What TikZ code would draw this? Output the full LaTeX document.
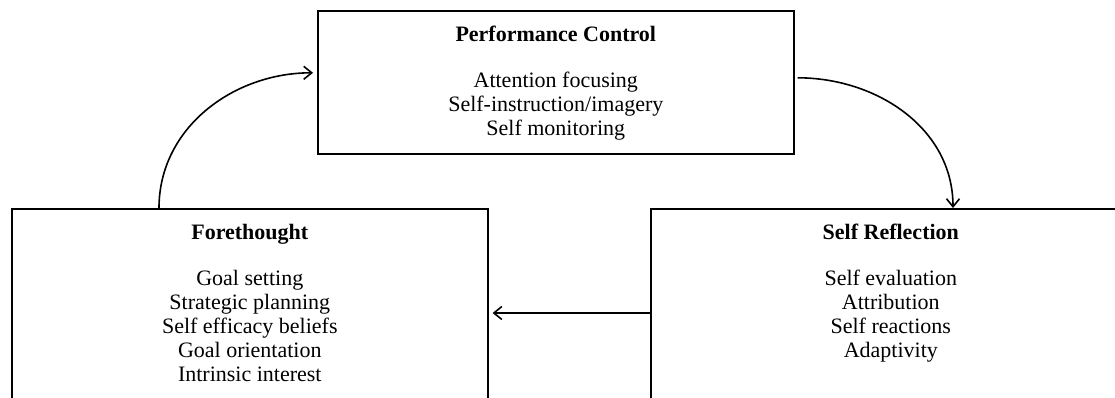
\documentclass[tikz,border=0pt]{standalone}
\usepackage{fontspec}
\setmainfont{Liberation Serif}
\usetikzlibrary{positioning,arrows.meta}

\begin{document}
\begin{tikzpicture}[x=0.5pt, y=-0.5pt, >={Straight Barb[length=4pt, width=6.5pt]},
    phase/.style={draw, line width=0.8pt, anchor=north west, minimum height=110pt},
    txt/.style={align=center, inner sep=0pt, font=\fontsize{11}{12}\selectfont}]
         \useasboundingbox (0,0) rectangle (1115,397);
         \clip (0,0) rectangle (1115,397);
         \node [phase, minimum width=238pt, minimum height=71.5pt] (PC) at (317, 10) {};
         \node [phase, minimum width=238pt] (FT) at (11, 208) {};
         \node [phase, minimum width=240pt] (SR) at (650, 208) {};
         \node [txt, below=8pt of PC.north] (PCtext) {\textbf{Performance Control}\\[11pt]
             Attention focusing\\ Self-instruction/imagery\\ Self monitoring};
         \node [txt, below=8pt of FT.north] (FTtext) {\textbf{Forethought}\\[11pt]
             Goal setting\\ Strategic planning\\ Self efficacy beliefs\\ Goal orientation\\ Intrinsic interest};
         \node [txt, below=8pt of SR.north] (SRtext) {\textbf{Self Reflection}\\[11pt]
             Self evaluation\\ Attribution\\ Self reactions\\ Adaptivity};
         \draw [->, line width=0.8pt] ([xshift=74pt]FT.north west) to [out=90, in=180] ([yshift=4.75pt, xshift=-2pt]PC.west);
         \draw [->, line width=0.8pt] ([yshift=2.25pt, xshift=1.5pt]PC.east) to [out=0, in=90] ([xshift=151.5pt]SR.north west);
         \draw [->, line width=0.8pt] ([yshift=-52.5pt]SR.north west) -- ([yshift=-52.5pt, xshift=2pt]FT.north east);
 \end{tikzpicture}
\end{document}
